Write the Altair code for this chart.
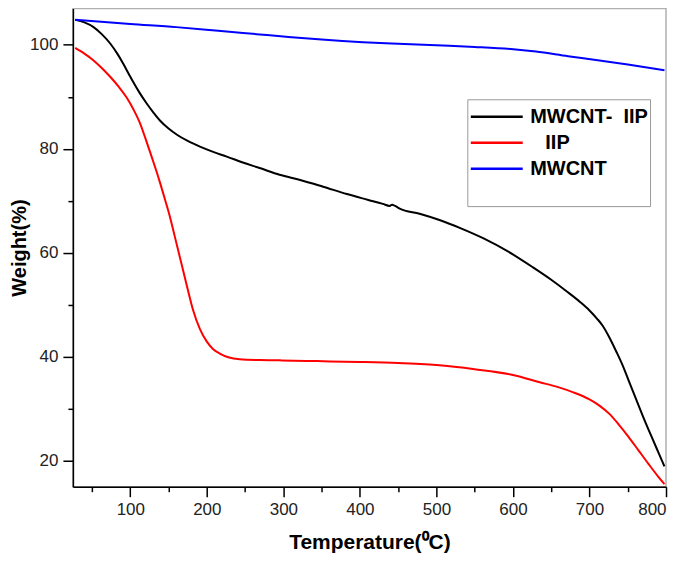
import altair as alt
import pandas as pd

series_names = ["MWCNT-\u00a0\u00a0IIP", "\u200b\u00a0\u00a0\u2009IIP", "MWCNT"]
series_colors = ["#000000", "#ff0000", "#0000ff"]

black_t = [28, 40, 52, 63, 74, 83, 91, 98, 104, 112, 121, 130, 139, 150, 161, 175, 191, 210, 226, 248,
           269, 295, 322, 352, 383, 410, 430, 439, 442, 446, 452, 478, 504, 532, 561, 594, 626, 650, 670,
           688, 700, 710, 717, 726, 735, 744, 752, 761, 770, 780, 790, 798]
black_w = [104.8, 104.3, 103.4, 102.0, 100.2, 98.3, 96.3, 94.4, 92.8, 90.8, 88.8, 87.0, 85.4, 83.9, 82.7,
           81.5, 80.4, 79.3, 78.5, 77.3, 76.3, 75.0, 74.0, 72.7, 71.3, 70.2, 69.4, 69.0, 69.25, 69.0, 68.5,
           67.5, 66.3, 64.7, 62.8, 60.2, 57.2, 54.8, 52.6, 50.5, 48.9, 47.3, 46.0, 43.7, 41.0, 38.1, 35.1,
           31.8, 28.5, 25.0, 21.6, 18.9]

red_t = [28, 40, 52, 63, 74, 85, 95, 104, 113, 120, 126, 133, 139, 146, 152, 158, 165, 173, 182, 191, 200,
         208, 217, 228, 243, 270, 296, 330, 361, 400, 450, 500, 550, 600, 635, 660, 678, 700, 713, 726, 738,
         751, 764, 777, 790, 798]
red_w = [99.4, 98.3, 97.0, 95.5, 93.8, 91.9, 89.9, 87.6, 84.8, 81.9, 79.3, 76.2, 73.4, 69.9, 66.8, 63.2,
         59.0, 54.2, 49.0, 45.3, 42.9, 41.5, 40.6, 39.9, 39.5, 39.35, 39.3, 39.2, 39.1, 39.0, 38.8, 38.4,
         37.6, 36.5, 35.1, 34.1, 33.2, 31.8, 30.6, 29.0, 27.0, 24.6, 22.0, 19.4, 16.9, 15.5]

blue_t = [28, 100, 160, 215, 269, 300, 350, 404, 450, 500, 550, 597, 630, 672, 713, 750, 798]
blue_w = [104.8, 104.0, 103.4, 102.7, 102.0, 101.6, 101.0, 100.5, 100.2, 99.9, 99.6, 99.2, 98.7, 97.8,
          97.0, 96.2, 95.1]

x_ticks = [50, 100, 150, 200, 250, 300, 350, 400, 450, 500, 550, 600, 650, 700, 750, 800]
y_ticks = [20, 30, 40, 50, 60, 70, 80, 90, 100]

rows = []
for name, ts, ws in zip(series_names, [black_t, red_t, blue_t], [black_w, red_w, blue_w]):
    for t, w in zip(ts, ws):
        rows.append({"series": name, "T": t, "W": w})
df = pd.DataFrame(rows)

font = "Liberation Sans"

chart = alt.Chart(df).mark_line(strokeWidth=2, interpolate="monotone").encode(
    x=alt.X("T:Q",
            scale=alt.Scale(domain=[25, 800], nice=False, zero=False),
            axis=alt.Axis(values=x_ticks, title="Temperature(\u2070C)",
                          labelExpr="datum.value % 100 === 0 ? datum.label : ''",
                          tickSize={"condition": {"test": "datum.value % 100 === 0", "value": 10}, "value": 5},
                          labelPadding=5, titlePadding=14, titleFontSize=21)),
    y=alt.Y("W:Q",
            scale=alt.Scale(domain=[15, 107], nice=False, zero=False),
            axis=alt.Axis(values=y_ticks, title="Weight(%)",
                          labelExpr="datum.value % 20 === 0 ? datum.label : ''",
                          tickSize={"condition": {"test": "datum.value % 20 === 0", "value": 10}, "value": 5},
                          labelPadding=5, titlePadding=0, titleFontSize=20)),
    color=alt.Color("series:N",
                    scale=alt.Scale(domain=series_names, range=series_colors),
                    sort=series_names,
                    legend=alt.Legend(orient="none", legendX=395, legendY=91,
                                      title="\u200b", titleOrient="bottom", titleFontSize=20,
                                      titlePadding=5,
                                      symbolType="M-1,0H2.714", symbolSize=784, symbolStrokeWidth=2.5,
                                      rowPadding=-2, labelOffset=30, padding=2,
                                      labelFont=font, labelFontSize=20, labelFontWeight="bold",
                                      labelColor="#000000",
                                      strokeColor="#999999", fillColor="#ffffff")),
    order=alt.Order("T:Q"),
).properties(
    width=594, height=479,
    autosize=alt.AutoSizeParams(type="none"),
    padding={"left": 65, "top": 0, "right": 11, "bottom": 70},
).configure_view(
    stroke="#b0b0b0", strokeWidth=1.5
).configure_axis(
    domainColor="#000000", domainWidth=1.5, tickColor="#000000", tickWidth=1.5,
    labelFont=font, labelFontSize=17, labelColor="#222222",
    titleFont=font, titleFontWeight="bold", titleColor="#000000",
    grid=False,
)

chart.save("out.html", embed_options={"renderer": "svg", "actions": False})
